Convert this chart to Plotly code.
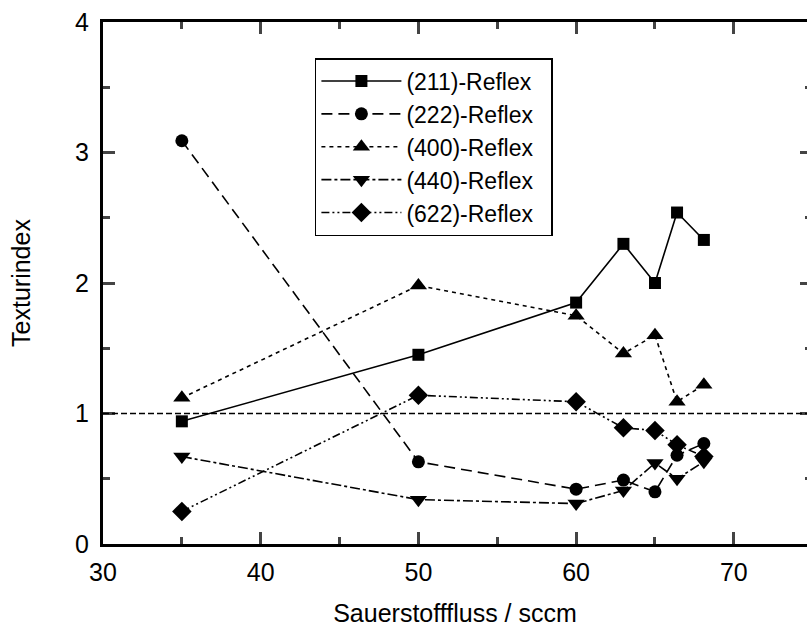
import plotly.graph_objects as go

# Data
x_flow = [35, 50, 60, 63, 65, 66.4, 68.1]
r211 = [0.94, 1.45, 1.85, 2.30, 2.00, 2.54, 2.33]
r222 = [3.09, 0.63, 0.42, 0.49, 0.40, 0.68, 0.77]
r400 = [1.12, 1.98, 1.75, 1.46, 1.60, 1.09, 1.22]
r440 = [0.67, 0.34, 0.31, 0.41, 0.62, 0.50, 0.63]
r622 = [0.25, 1.14, 1.09, 0.89, 0.87, 0.76, 0.67]
names = ["(211)-Reflex", "(222)-Reflex", "(400)-Reflex", "(440)-Reflex", "(622)-Reflex"]
ref_level = 1.0

series = [r211, r222, r400, r440, r622]
symbols = ["square", "circle", "triangle-up", "triangle-down", "diamond"]
dashes = ["solid", "11px,6px", "4px,4px", "10px,3px,3px,3px", "8px,3px,2px,3px,2px,3px"]
sizes = [12, 13, 15, 15, 15]

fig = go.Figure()
for name, ys, sym, dsh, sz in zip(names, series, symbols, dashes, sizes):
    fig.add_trace(go.Scatter(
        x=x_flow, y=ys, name=name + "\u00a0\u00a0", mode="lines+markers",
        line=dict(color="black", width=1.6, dash=dsh),
        marker=dict(symbol=sym, size=sz, color="black"),
    ))

fig.add_shape(type="line", xref="paper", x0=0, x1=1, yref="y", y0=ref_level, y1=ref_level,
              line=dict(color="black", width=1.6, dash="6px,3px"))

font = "Liberation Sans, Arial, sans-serif"
fig.update_layout(
    width=807, height=627,
    margin=dict(l=103, r=0, t=22, b=83),
    paper_bgcolor="white", plot_bgcolor="white",
    font=dict(family=font, size=25, color="black"),
    showlegend=True,
    legend=dict(x=0.301, y=0.931, xanchor="left", yanchor="top",
                bordercolor="black", borderwidth=1.5, bgcolor="white",
                font=dict(size=23), itemwidth=80, tracegroupgap=0),
    xaxis=dict(range=[30, 74.64], tickvals=[30, 40, 50, 60, 70],
               ticks="inside", ticklen=12, tickwidth=2.5,
               minor=dict(dtick=5, ticks="inside", ticklen=7, tickwidth=2.5),
               showline=True, linewidth=3.3, linecolor="black", mirror="ticks",
               showgrid=False, zeroline=False, ticklabelstandoff=4,
               title=dict(text="Sauerstofffluss / sccm", font=dict(size=25), standoff=20)),
    yaxis=dict(range=[0, 4], tickvals=[0, 1, 2, 3, 4],
               ticks="inside", ticklen=12, tickwidth=2.5,
               minor=dict(dtick=0.5, ticks="inside", ticklen=7, tickwidth=2.5),
               showline=True, linewidth=3.3, linecolor="black", mirror=False,
               showgrid=False, zeroline=False, ticklabelstandoff=6,
               title=dict(text="Texturindex", font=dict(size=25), standoff=38)),
    yaxis2=dict(range=[0, 4], overlaying="y", side="right", anchor="x",
                tickvals=[0, 1, 2, 3, 4], ticks="inside", ticklen=7, tickwidth=2.5,
                minor=dict(dtick=0.5, ticks="inside", ticklen=2, tickwidth=2.5),
                showticklabels=False, showline=False, showgrid=False, zeroline=False),
)
fig.add_trace(go.Scatter(x=[], y=[], yaxis="y2", showlegend=False, hoverinfo="skip"))

fig.write_html("out.html")
